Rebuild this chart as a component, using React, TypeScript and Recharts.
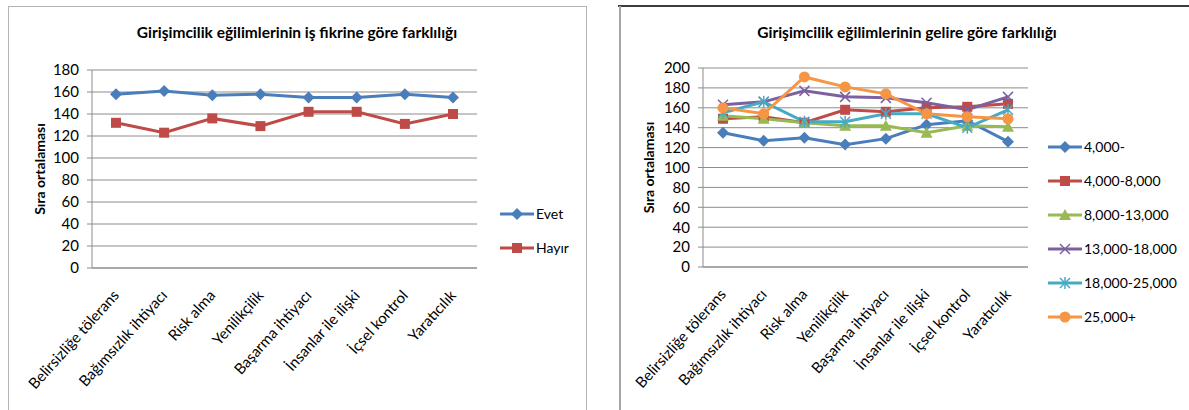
import React from "react"
import { LineChart, Line, XAxis, YAxis, CartesianGrid } from "recharts"

// categories shared by both charts
const categories = [
  "Belirsizliğe tölerans",
  "Bağımsızlık ihtiyacı",
  "Risk alma",
  "Yenilikçilik",
  "Başarma ihtiyacı",
  "İnsanlar ile ilişki",
  "İçsel kontrol",
  "Yaratıcılık",
]

// left chart: by business idea
const evet = [158, 161, 157, 158, 155, 155, 158, 155]
const hayir = [132, 123, 136, 129, 142, 142, 131, 140]
const ideaTicks = [0, 20, 40, 60, 80, 100, 120, 140, 160, 180]

// right chart: by income
const inc4000 = [135, 127, 130, 123, 129, 143, 147, 126]
const inc4000to8000 = [149, 151, 145, 158, 156, 160, 161, 164]
const inc8000to13000 = [152, 149, 145, 142, 142, 135, 142, 141]
const inc13000to18000 = [163, 166, 177, 171, 170, 165, 158, 171]
const inc18000to25000 = [155, 166, 146, 146, 154, 154, 140, 158]
const inc25000plus = [160, 154, 191, 181, 174, 154, 151, 149]
const incomeTicks = [0, 20, 40, 60, 80, 100, 120, 140, 160, 180, 200]

const FONT = "Lato, 'Open Sans', sans-serif"
const GRID = "#8c8c8c"

type Shape = "diamond" | "square" | "triangle" | "x" | "star" | "circle"

function Marker({ shape, cx, cy, color }: { shape: Shape; cx: number; cy: number; color: string }) {
  switch (shape) {
    case "diamond":
      return <polygon points={`${cx},${cy - 6} ${cx + 6},${cy} ${cx},${cy + 6} ${cx - 6},${cy}`} fill={color} />
    case "square":
      return <rect x={cx - 5} y={cy - 5} width={10} height={10} fill={color} />
    case "triangle":
      return <polygon points={`${cx},${cy - 6} ${cx + 6},${cy + 5} ${cx - 6},${cy + 5}`} fill={color} />
    case "x":
      return (
        <g stroke={color} strokeWidth={1.5}>
          <line x1={cx - 5} y1={cy - 5} x2={cx + 5} y2={cy + 5} />
          <line x1={cx - 5} y1={cy + 5} x2={cx + 5} y2={cy - 5} />
        </g>
      )
    case "star":
      return (
        <g stroke={color} strokeWidth={1.5}>
          <line x1={cx - 5} y1={cy - 5} x2={cx + 5} y2={cy + 5} />
          <line x1={cx - 5} y1={cy + 5} x2={cx + 5} y2={cy - 5} />
          <line x1={cx} y1={cy - 6} x2={cx} y2={cy + 6} />
        </g>
      )
    default:
      return <circle cx={cx} cy={cy} r={5.5} fill={color} />
  }
}

const dotFor = (shape: Shape, color: string) => (p: any) => (
  <Marker key={`d-${p.index}`} shape={shape} cx={p.cx} cy={p.cy} color={color} />
)

function SlantTick(props: any) {
  const { x, y, payload } = props
  return (
    <g transform={`translate(${x - 5},${y + 20}) rotate(-48)`}>
      <text x={0} y={0} textAnchor="end" dominantBaseline="hanging" fontSize={15} fill="#000" fontFamily={FONT}>
        {payload.value}
      </text>
    </g>
  )
}

type Series = { name: string; values: number[]; color: string; shape: Shape }

const ideaSeries: Series[] = [
  { name: "Evet", values: evet, color: "#4a7ebb", shape: "diamond" },
  { name: "Hayır", values: hayir, color: "#be4b48", shape: "square" },
]

const incomeSeries: Series[] = [
  { name: "4,000-", values: inc4000, color: "#4a7ebb", shape: "diamond" },
  { name: "4,000-8,000", values: inc4000to8000, color: "#be4b48", shape: "square" },
  { name: "8,000-13,000", values: inc8000to13000, color: "#98b954", shape: "triangle" },
  { name: "13,000-18,000", values: inc13000to18000, color: "#7d60a0", shape: "x" },
  { name: "18,000-25,000", values: inc18000to25000, color: "#46aac5", shape: "star" },
  { name: "25,000+", values: inc25000plus, color: "#f69544", shape: "circle" },
]

function buildRows(series: Series[]) {
  return categories.map((name, i) => {
    const row: Record<string, any> = { name }
    series.forEach((s) => (row[s.name] = s.values[i]))
    return row
  })
}

function LegendBox({ series, left, top, gap }: { series: Series[]; left: number; top: number; gap: number }) {
  return (
    <div style={{ position: "absolute", left, top, fontFamily: FONT, fontSize: 14, color: "#000" }}>
      {series.map((s, i) => (
        <div key={s.name} style={{ position: "absolute", left: 0, top: i * gap, display: "flex", alignItems: "center", whiteSpace: "nowrap" }}>
          <svg width={34} height={14} style={{ marginRight: 2 }}>
            <line x1={0} y1={7} x2={34} y2={7} stroke={s.color} strokeWidth={3} />
            <Marker shape={s.shape} cx={17} cy={7} color={s.color} />
          </svg>
          <span>{s.name}</span>
        </div>
      ))}
    </div>
  )
}

function Panel(props: {
  left: number
  width: number
  top: number
  bottom: number
  axisWidth: number
  plotRight: number
  pad: number
  max: number
  ticks: number[]
  series: Series[]
  labelDx: number
}) {
  const { left, width, top, bottom, axisWidth, plotRight, pad, max, ticks, series, labelDx } = props
  return (
    <div style={{ position: "absolute", left, top: 0 }}>
      <LineChart
        width={width}
        height={410}
        data={buildRows(series)}
        margin={{ top, right: width - plotRight, left: 0, bottom: 0 }}
      >
        <CartesianGrid vertical={false} stroke={GRID} />
        <XAxis
          dataKey="name"
          interval={0}
          padding={{ left: pad, right: pad }}
          height={410 - bottom}
          tickLine={false}
          tickSize={0}
          tickMargin={0}
          axisLine={{ stroke: GRID }}
          tick={<SlantTick />}
        />
        <YAxis
          domain={[0, max]}
          ticks={ticks}
          interval={0}
          width={axisWidth}
          tickSize={5}
          tickMargin={8}
          axisLine={{ stroke: GRID }}
          tickLine={{ stroke: GRID }}
          tick={{ fontSize: 15, fill: "#000", fontFamily: FONT }}
          label={{
            value: "Sıra ortalaması",
            angle: -90,
            position: "center",
            dx: labelDx,
            style: { fontSize: 14, fontWeight: "bold", fill: "#000", fontFamily: FONT },
          }}
        />
        {series.map((s) => (
          <Line
            key={s.name}
            dataKey={s.name}
            stroke={s.color}
            strokeWidth={3}
            dot={dotFor(s.shape, s.color)}
            activeDot={false}
            isAnimationActive={false}
          />
        ))}
      </LineChart>
    </div>
  )
}

export default function App() {
  return (
    <div style={{ position: "absolute", left: 0, top: 0, width: 1189, height: 410, background: "#fff", overflow: "hidden" }}>
      {/* left frame */}
      <div style={{ position: "absolute", left: 8, top: 6, width: 577, height: 420, border: "1px solid #b4b4b4" }} />
      {/* right frame */}
      <div style={{ position: "absolute", left: 618, top: 5, width: 600, height: 2, background: "#3c3c3c" }} />
      <div style={{ position: "absolute", left: 619, top: 6, width: 2, height: 410, background: "#a6a6a6" }} />

      <div style={{ position: "absolute", left: 47, width: 500, top: 23, textAlign: "center", fontFamily: FONT, fontWeight: "bold", fontSize: 15.5 }}>
        Girişimcilik eğilimlerinin iş fikrine göre farklılığı
      </div>
      <div style={{ position: "absolute", left: 657, width: 500, top: 23, textAlign: "center", fontFamily: FONT, fontWeight: "bold", fontSize: 15.5 }}>
        Girişimcilik eğilimlerinin gelire göre farklılığı
      </div>

      <Panel left={0} width={500} top={70} bottom={268} axisWidth={92} plotRight={477} pad={24} max={180} ticks={ideaTicks} series={ideaSeries} labelDx={-6} />
      <Panel left={600} width={440} top={68} bottom={267} axisWidth={103} plotRight={428} pad={20} max={200} ticks={incomeTicks} series={incomeSeries} labelDx={-2} />

      <LegendBox series={ideaSeries} left={500} top={205} gap={34} />
      <LegendBox series={incomeSeries} left={1048} top={138} gap={34} />
    </div>
  )
}
